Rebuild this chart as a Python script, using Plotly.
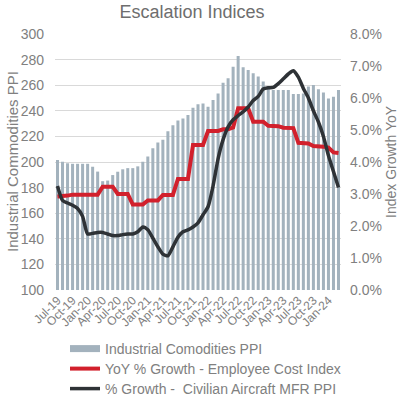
import pandas as pd
import plotly.graph_objects as go

# ---- data ----
months = [d.strftime("%b-%y") for d in pd.date_range("2019-07-01", periods=57, freq="MS")]
tick_labels = months[::3]

ppi_industrial = [
    201.5, 200.2, 199.0, 198.6, 198.6, 198.6, 198.6, 196.3, 192.5, 185.0,
    185.5, 189.8, 192.4, 194.3, 195.2, 195.2, 196.6, 200.2, 204.3, 210.7,
    215.2, 217.3, 224.0, 228.7, 232.5, 233.9, 236.7, 242.3, 245.2, 245.8,
    243.2, 248.4, 253.6, 262.0, 265.4, 274.5, 282.8, 274.0, 271.9, 269.3,
    266.7, 262.8, 258.9, 256.3, 256.3, 256.3, 256.3, 253.1, 253.1, 253.6,
    258.9, 260.2, 256.8, 254.2, 249.7, 251.0, 256.3,
]

eci_yoy = [
    2.92, 2.92, 2.95, 2.98, 2.98, 2.98, 2.98, 2.98, 2.98, 3.23,
    3.23, 3.23, 3.00, 3.00, 3.00, 2.67, 2.67, 2.67, 2.80, 2.80,
    2.80, 2.97, 2.97, 2.97, 3.47, 3.47, 3.47, 4.53, 4.53, 4.53,
    4.97, 4.97, 4.97, 5.02, 5.02, 5.08, 5.68, 5.68, 5.68, 5.26,
    5.26, 5.26, 5.13, 5.13, 5.12, 5.07, 5.06, 5.06, 4.60, 4.60,
    4.58, 4.50, 4.50, 4.48, 4.45, 4.30, 4.28,
]

aircraft_ppi = [
    3.25, 2.80, 2.72, 2.65, 2.55, 2.30, 1.75, 1.77, 1.80, 1.80,
    1.75, 1.70, 1.70, 1.73, 1.75, 1.75, 1.82, 1.97, 1.88, 1.62,
    1.35, 1.12, 1.07, 1.35, 1.65, 1.82, 1.88, 1.97, 2.10, 2.35,
    2.60, 3.25, 4.10, 4.70, 5.10, 5.32, 5.45, 5.57, 5.72, 5.92,
    6.05, 6.28, 6.32, 6.33, 6.45, 6.60, 6.75, 6.85, 6.65, 6.30,
    6.00, 5.60, 5.25, 4.80, 4.20, 3.70, 3.20,
]

eci_pct = [v / 100 for v in eci_yoy]
air_pct = [v / 100 for v in aircraft_ppi]

BAR_C = "#a3b2bd"
RED_C = "#d2202c"
BLK_C = "#2e3236"
TXT_C = "#808080"
FONT = "Liberation Sans, Arial, sans-serif"

fig = go.Figure()
fig.add_trace(go.Bar(x=months, y=ppi_industrial, marker_color=BAR_C, marker_line_width=0,
                     name="Industrial Comodities PPI", showlegend=False, yaxis="y"))
# legend proxy for the bar series
fig.add_trace(go.Scatter(x=[None], y=[None], mode="lines", line=dict(color=BAR_C, width=7),
                         name="Industrial Comodities PPI", yaxis="y", legend="legend"))
fig.add_trace(go.Scatter(x=months, y=eci_pct, mode="lines", line=dict(color=RED_C, width=4),
                         name="YoY % Growth - Employee Cost Index", yaxis="y2", legend="legend2"))
fig.add_trace(go.Scatter(x=months, y=air_pct, mode="lines",
                         line=dict(color=BLK_C, width=3.5, shape="spline", smoothing=0.6),
                         name="% Growth -  Civilian Aircraft MFR PPI", yaxis="y2", legend="legend3"))


def leg(ycenter):
    return dict(x=65 / 402, y=(399 - ycenter) / 399, xref="container", yref="container",
                xanchor="left", yanchor="middle", orientation="v",
                font=dict(size=14, color=TXT_C, family=FONT),
                bgcolor="rgba(0,0,0,0)")


fig.update_layout(
    width=402, height=399,
    margin=dict(l=55, r=61, t=34, b=109, autoexpand=False),
    paper_bgcolor="white", plot_bgcolor="white",
    font=dict(family=FONT, color=TXT_C, size=14),
    bargap=0.4,
    title=dict(text="Escalation Indices", x=192 / 402, xanchor="center", xref="container",
               y=1 - 12 / 399, yanchor="middle", yref="container",
               font=dict(size=18, color="#6e6e6e", family=FONT)),
    xaxis=dict(type="category", tickmode="array", tickvals=tick_labels, ticktext=tick_labels,
               tickangle=-45, tickfont=dict(size=12, color=TXT_C), showgrid=False,
               showline=False, ticks="", ticklabelstandoff=0, range=[-0.5, 56.5],
               automargin=False),
    yaxis=dict(range=[100, 300], dtick=20, gridcolor="#d9d9d9", gridwidth=1,
               showline=False, zeroline=False, ticks="", ticklabelstandoff=10,
               tickfont=dict(size=14, color=TXT_C), automargin=False),
    yaxis2=dict(range=[0, 0.08], dtick=0.01, tickformat=".1%", overlaying="y", side="right",
                showgrid=False, showline=False, zeroline=False, ticks="", ticklabelstandoff=8,
                tickfont=dict(size=14, color=TXT_C), automargin=False),
    legend=leg(349),
    legend2=leg(369),
    legend3=leg(389),
    showlegend=True,
)

fig.add_annotation(text="Industrial Commodities PPI", textangle=-90, xref="paper", yref="paper",
                   x=-(55 - 12) / 286, y=0.5, xanchor="center", yanchor="middle", showarrow=False,
                   font=dict(size=15, color=TXT_C, family=FONT))
fig.add_annotation(text="Index Growth YoY", textangle=-90, xref="paper", yref="paper",
                   x=1 + (391 - 341) / 286, y=0.5, xanchor="center", yanchor="middle", showarrow=False,
                   font=dict(size=14, color=TXT_C, family=FONT))

fig.write_html("out.html", config={"displayModeBar": False},
               post_script="document.body.style.margin='0';")
